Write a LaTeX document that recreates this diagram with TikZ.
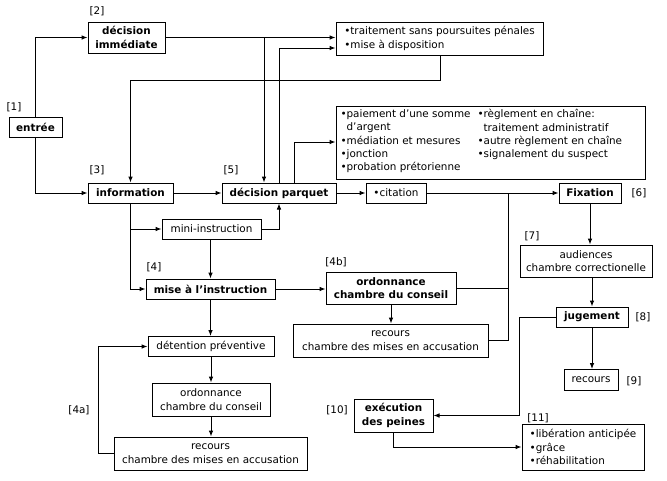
\documentclass[tikz,border=0pt]{standalone}
\usepackage{fontspec}
\setmainfont{DejaVu Sans}
\usetikzlibrary{arrows.meta}
\begin{document}
\begin{tikzpicture}[x=0.75pt,y=-0.75pt,line width=0.75pt,
  font=\fontsize{7.8}{10}\selectfont,
  bx/.style={draw,inner sep=0pt,align=center},
  sz/.style 2 args={minimum width=#1*0.75pt,minimum height=#2*0.75pt},
  lbl/.style={inner sep=0pt},
  txt/.style={inner sep=0pt,align=left,anchor=north west},
  arr/.style={-{Latex[length=4.5pt,width=3.5pt]}}]
\useasboundingbox (0,0) rectangle (667,480);

% boxes
\node[bx,sz={53}{20}] (entree) at (35.5,127) {\bfseries entrée};
\node[bx,sz={77}{31}] (dimm) at (126.5,37.5) {\bfseries décision\\\bfseries immédiate};
\node[bx,sz={207}{33},align=left] (trait) at (439.5,38.5) {•traitement sans poursuites pénales\\•mise à disposition};
\node[bx,sz={309}{73}] (big) at (490.5,142.5) {};
\node[txt] (bigL) at (340,109) {•paiement d’une somme\\\phantom{•}d’argent\\•médiation et mesures\\•jonction\\•probation prétorienne};
\node[txt] (bigR) at (477,109) {•règlement en chaîne:\\\phantom{•}traitement administratif\\•autre règlement en chaîne\\•signalement du suspect};
\node[bx,sz={85}{20}] (info) at (130.5,193) {\bfseries information};
\node[bx,sz={114}{20}] (dparq) at (279,193) {\bfseries décision parquet};
\node[bx,sz={60}{20}] (citation) at (396,193) {•citation};
\node[bx,sz={62}{20}] (fix) at (590,193) {\bfseries Fixation};
\node[bx,sz={99}{20}] (mini) at (211.5,229) {mini-instruction};
\node[bx,sz={129}{20}] (mise) at (210.5,289) {\bfseries mise à l’instruction};
\node[bx,sz={130}{32}] (ord4b) at (391,288) {\bfseries ordonnance\\\bfseries chambre du conseil};
\node[bx,sz={195}{33}] (rec4b) at (390.5,340.5) {recours\\chambre des mises en accusation};
\node[bx,sz={126}{20}] (det) at (211,346.5) {détention préventive};
\node[bx,sz={118}{33}] (ord) at (211,399.5) {ordonnance\\chambre du conseil};
\node[bx,sz={193}{33}] (rec) at (210.5,453.5) {recours\\chambre des mises en accusation};
\node[bx,sz={132}{32}] (aud) at (586,261) {audiences\\chambre correctionelle};
\node[bx,sz={72}{20}] (jug) at (592,317) {\bfseries jugement};
\node[bx,sz={54}{21}] (rec9) at (591,380) {recours};
\node[bx,sz={79}{33}] (exec) at (393.5,415.5) {\bfseries exécution\\\bfseries des peines};
\node[bx,sz={122}{46},align=left] (lib) at (583,447) {•libération anticipée\\•grâce\\•réhabilitation};

% labels
\node[lbl] (l1) at (14,107) {[1]};
\node[lbl] (l2) at (97,11) {[2]};
\node[lbl] (l3) at (97,170) {[3]};
\node[lbl] (l5) at (231,170) {[5]};
\node[lbl] (l4) at (154,267) {[4]};
\node[lbl] (l4b) at (336,262) {[4b]};
\node[lbl] (l4a) at (79,410) {[4a]};
\node[lbl] (l6) at (639,193) {[6]};
\node[lbl] (l7) at (532,236) {[7]};
\node[lbl] (l8) at (643,317) {[8]};
\node[lbl] (l9) at (634,381) {[9]};
\node[lbl] (l10) at (337,410) {[10]};
\node[lbl] (l11) at (538,418) {[11]};

% helper coordinates
\coordinate (j1) at (264,38);
\coordinate (p1) at (279,48);
\coordinate (p2) at (440,80);
\coordinate (p3) at (294,142);
\coordinate (p4) at (508,0);
\coordinate (p5) at (98,0);
\coordinate (p6) at (519,0);

% connectors
\draw[arr] (entree.north) |- (dimm.west);
\draw[arr] (entree.south) |- (info.west);
\draw[arr] (dimm.east) -- (dimm.east -| trait.west);
\draw[arr] (dimm.east -| j1) -- (j1 |- dparq.north);
\draw[arr] (dparq.north) |- (trait.west |- p1);
\draw[arr] (trait.south -| p2) |- (info.north |- p2) -- (info.north);
\draw[arr] (dparq.north -| p3) |- (big.west |- p3);
\draw[arr] (info.east) -- (dparq.west);
\draw[arr] (dparq.east) -- (citation.west);
\draw[arr] (citation.east) -- (fix.west);
\draw (rec4b.east) -| (p4 |- citation.east);
\draw (ord4b.east) -- (ord4b.east -| p4);
\draw[arr] (info.south) |- (mise.west);
\draw[arr] (info.south |- mini.west) -- (mini.west);
\draw[arr] (mini.east) -| (dparq.south);
\draw[arr] (mini.south -| mise.north) -- (mise.north);
\draw[arr] (mise.east) -- (mise.east -| ord4b.west);
\draw[arr] (ord4b.south) -- (ord4b.south |- rec4b.north);
\draw[arr] (mise.south) -- (mise.south |- det.north);
\draw[arr] (det.south) -- (det.south |- ord.north);
\draw[arr] (ord.south) -- (ord.south |- rec.north);
\draw[arr] (rec.west) -| (p5 |- det.west) -- (det.west);
\draw[arr] (fix.south) -- (fix.south |- aud.north);
\draw[arr] (jug.north |- aud.south) -- (jug.north);
\draw[arr] (jug.south) -- (jug.south |- rec9.north);
\draw[arr] (jug.west) -| (p6 |- exec.east) -- (exec.east);
\draw[arr] (exec.south) |- (lib.west);
\end{tikzpicture}
\end{document}
